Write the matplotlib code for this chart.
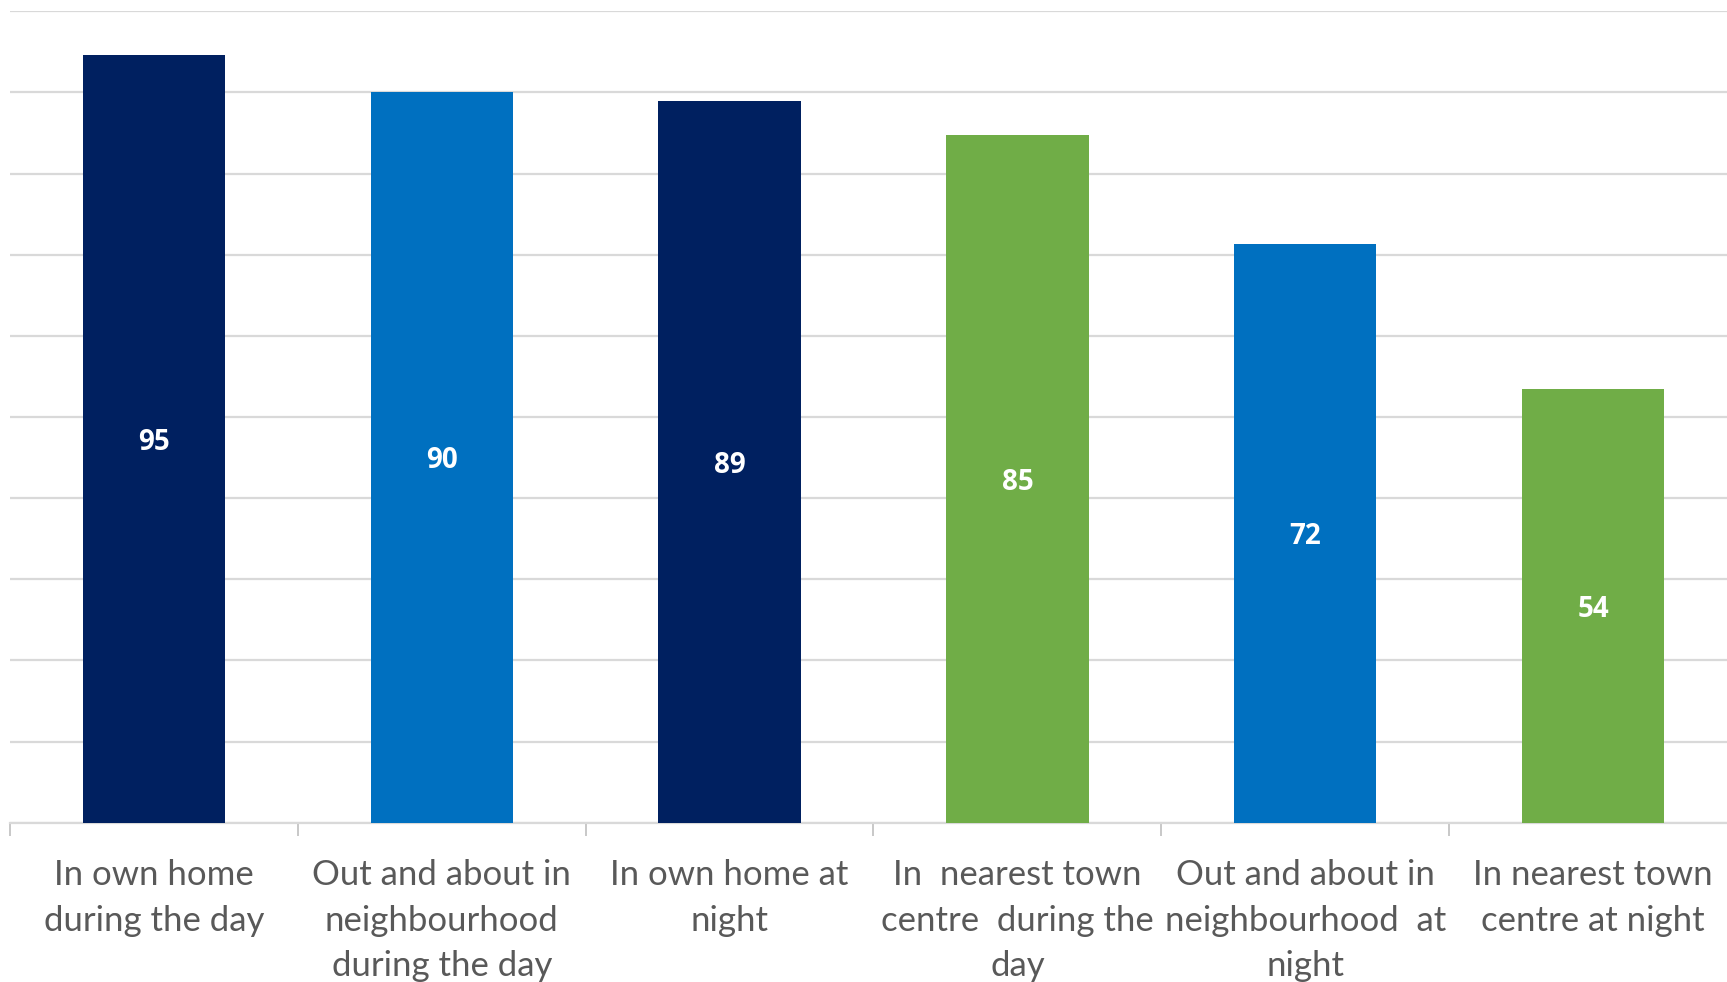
import matplotlib
matplotlib.use("Agg")
import matplotlib.pyplot as plt
import numpy as np

categories = [
    "In own home\nduring the day",
    "Out and about in\nneighbourhood\nduring the day",
    "In own home at\nnight",
    "In  nearest town\ncentre  during the\nday",
    "Out and about in\nneighbourhood  at\nnight",
    "In nearest town\ncentre at night",
]
values = [94.6, 90.1, 89.0, 84.8, 71.3, 53.5]
value_labels = ["95", "90", "89", "85", "72", "54"]
colors = ["#002060", "#0070C0", "#002060", "#70AD47", "#0070C0", "#70AD47"]

W, H = 1727, 982
fig = plt.figure(figsize=(W / 100, H / 100), dpi=100)
ax = fig.add_axes([10 / W, (H - 822.7) / H, 1727 / W, 811.4 / H])

x = np.arange(len(values))
ax.bar(x, values, width=0.495, color=colors, zorder=3)
for xi, v, lab in zip(x, values, value_labels):
    ax.text(xi, v / 2, lab, ha="center", va="center_baseline", color="white",
            fontsize=20, fontweight="bold", family="Open Sans", zorder=4)

ax.set_xlim(-0.5, len(values) - 0.5)
ax.set_ylim(0, 100)
ax.set_yticks(np.arange(0, 101, 10))
ax.yaxis.set_tick_params(length=0, labelleft=False)
ax.grid(axis="y", color="#d9d9d9", linewidth=1.6, zorder=0)
ax.set_axisbelow(True)

ax.set_xticks(x)
ax.set_xticklabels(categories, fontsize=25, color="#595959", family="Lato",
                   linespacing=1.53)
ax.tick_params(axis="x", which="major", length=0, pad=26)
ax.set_xticks(np.arange(-0.5, len(values) + 0.5, 1), minor=True)
ax.tick_params(axis="x", which="minor", length=9.5, width=1.2, color="#bfbfbf")

for s in ["top", "right", "left"]:
    ax.spines[s].set_visible(False)
ax.spines["bottom"].set_color("#d9d9d9")
ax.spines["bottom"].set_linewidth(1.6)

fig.savefig("out.png", dpi=100)
